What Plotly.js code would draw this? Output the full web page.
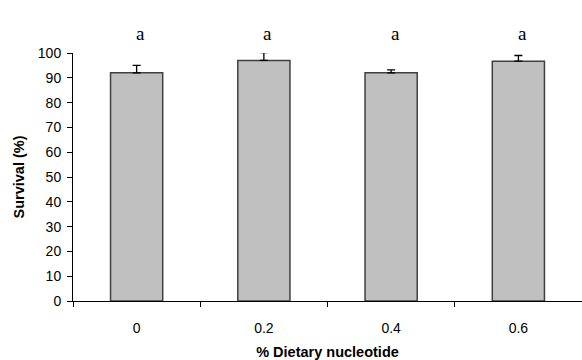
<!DOCTYPE html>
<html>
<head>
<meta charset="utf-8">
<script src="https://cdn.plot.ly/plotly-3.0.1.min.js"></script>
<style>html,body{margin:0;padding:0;background:#fff}#chart{width:582px;height:360px}</style>
</head>
<body>
<div id="chart"></div>
<script>
var categories = ["0", "0.2", "0.4", "0.6"];
var survival = [92, 97, 92, 96.7];
var errors = [3.0, 3.2, 1.2, 2.3];
var letters = ["a", "a", "a", "a"];
var letterY = [108, 108, 108, 108];
var yRange = [0, 100];
var yTicks = [0, 10, 20, 30, 40, 50, 60, 70, 80, 90, 100];

var bars = {
  type: "bar",
  x: categories,
  y: survival,
  width: 0.41,
  marker: {color: "#c0c0c0", line: {color: "#404040", width: 1.5}},
  error_y: {type: "data", array: errors, visible: true, symmetric: false, arrayminus: [0,0,0,0], color: "#000", thickness: 1.3, width: 4},
  hoverinfo: "none"
};

// letters above the plot area: x = category index on the category axis, y converted to paper fraction of the y range
var annotations = categories.map(function(c, i) {
  return {
    x: i, xref: "x",
    y: (letterY[i] - yRange[0]) / (yRange[1] - yRange[0]), yref: "paper",
    xanchor: "center", yanchor: "middle",
    text: letters[i], showarrow: false, xshift: 4,
    font: {family: "Liberation Serif, Times New Roman, serif", size: 19, color: "#000"}
  };
});

var layout = {
  width: 582, height: 360,
  margin: {l: 73, r: 0, t: 53, b: 58.5},
  paper_bgcolor: "#fff", plot_bgcolor: "#fff",
  showlegend: false,
  font: {family: "Liberation Sans, Arial, sans-serif", size: 14, color: "#000"},
  xaxis: {
    type: "category", range: [-0.5, 3.5],
    showline: true, linecolor: "#000", linewidth: 1,
    ticks: "outside", tickson: "boundaries", ticklen: 5, tickcolor: "#000",
    showgrid: false, zeroline: false,
    tickfont: {size: 14},
    ticklabelstandoff: 14,
    title: {text: "% Dietary nucleotide", font: {size: 14.5, family: "Liberation Sans, Arial, sans-serif", weight: "bold"}, standoff: 17}
  },
  yaxis: {
    range: yRange, tickvals: yTicks,
    showline: true, linecolor: "#000", linewidth: 1,
    ticks: "outside", ticklen: 5, tickcolor: "#000",
    showgrid: false, zeroline: false,
    tickfont: {size: 14},
    ticklabelstandoff: 3,
    title: {text: "Survival (%)", font: {size: 14.5, family: "Liberation Sans, Arial, sans-serif", weight: "bold"}, standoff: 9}
  },
  annotations: annotations
};

Plotly.newPlot("chart", [bars], layout, {staticPlot: true, displayModeBar: false});
</script>
</body>
</html>
